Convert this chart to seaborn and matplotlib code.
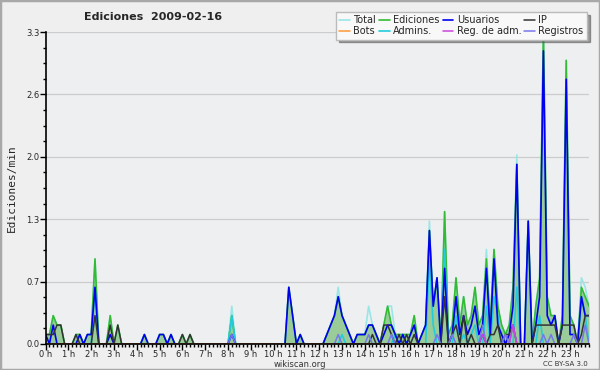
import numpy as np
import pandas as pd
import matplotlib
matplotlib.use("Agg")
import matplotlib.pyplot as plt
import seaborn as sns
from matplotlib.ticker import MultipleLocator, FixedLocator, FuncFormatter
from matplotlib.patches import Rectangle

title = "Ediciones  2009-02-16"
hour_labels = [f"{h} h" for h in range(24)]
ytick_values = [0.0, 0.66, 1.32, 1.98, 2.64, 3.3]

# 10-minute bins, edits per minute (one row per hour)
ediciones = [
    0.1, 0.1, 0.3, 0.2, 0.2, 0.0,
    0.0, 0.0, 0.1, 0.1, 0.0, 0.1,
    0.1, 0.9, 0.0, 0.0, 0.0, 0.3,
    0.0, 0.2, 0.0, 0.0, 0.0, 0.0,
    0.0, 0.0, 0.1, 0.0, 0.0, 0.0,
    0.1, 0.1, 0.0, 0.1, 0.0, 0.0,
    0.1, 0.0, 0.1, 0.0, 0.0, 0.0,
    0.0, 0.0, 0.0, 0.0, 0.0, 0.0,
    0.0, 0.3, 0.0, 0.0, 0.0, 0.0,
    0.0, 0.0, 0.0, 0.0, 0.0, 0.0,
    0.0, 0.0, 0.0, 0.0, 0.6, 0.3,
    0.0, 0.1, 0.0, 0.0, 0.0, 0.0,
    0.0, 0.0, 0.1, 0.2, 0.3, 0.5,
    0.3, 0.2, 0.1, 0.0, 0.1, 0.1,
    0.1, 0.2, 0.2, 0.1, 0.0, 0.2,
    0.4, 0.2, 0.1, 0.1, 0.1, 0.1,
    0.1, 0.3, 0.0, 0.1, 0.2, 1.2,
    0.4, 0.7, 0.0, 1.4, 0.1, 0.2,
    0.7, 0.2, 0.5, 0.2, 0.3, 0.6,
    0.2, 0.3, 0.9, 0.2, 1.0, 0.4,
    0.2, 0.1, 0.2, 0.6, 1.9, 0.0,
    0.0, 1.3, 0.0, 0.4, 0.7, 3.3,
    0.5, 0.3, 0.3, 0.0, 0.3, 3.0,
    0.3, 0.2, 0.0, 0.6, 0.5, 0.4,
]
total = [
    0.1, 0.1, 0.3, 0.2, 0.2, 0.0,
    0.0, 0.0, 0.1, 0.1, 0.0, 0.1,
    0.1, 0.9, 0.0, 0.0, 0.0, 0.3,
    0.0, 0.2, 0.0, 0.0, 0.0, 0.0,
    0.0, 0.0, 0.1, 0.0, 0.0, 0.0,
    0.1, 0.1, 0.0, 0.1, 0.0, 0.0,
    0.1, 0.0, 0.1, 0.0, 0.0, 0.0,
    0.0, 0.0, 0.0, 0.0, 0.0, 0.0,
    0.0, 0.4, 0.0, 0.0, 0.0, 0.0,
    0.0, 0.0, 0.0, 0.0, 0.0, 0.0,
    0.0, 0.0, 0.0, 0.0, 0.6, 0.3,
    0.0, 0.1, 0.0, 0.0, 0.0, 0.0,
    0.0, 0.0, 0.1, 0.2, 0.3, 0.6,
    0.3, 0.2, 0.1, 0.0, 0.1, 0.1,
    0.1, 0.4, 0.2, 0.1, 0.0, 0.2,
    0.4, 0.4, 0.1, 0.1, 0.1, 0.1,
    0.1, 0.3, 0.0, 0.1, 0.2, 1.3,
    0.4, 0.7, 0.0, 1.4, 0.1, 0.2,
    0.7, 0.2, 0.5, 0.2, 0.3, 0.6,
    0.2, 0.3, 1.0, 0.2, 1.0, 0.4,
    0.2, 0.1, 0.2, 0.6, 2.0, 0.0,
    0.0, 1.3, 0.0, 0.4, 0.7, 3.3,
    0.5, 0.3, 0.3, 0.0, 0.3, 3.0,
    0.3, 0.2, 0.0, 0.7, 0.6, 0.4,
]
usuarios = [
    0.1, 0.0, 0.2, 0.0, 0.0, 0.0,
    0.0, 0.0, 0.0, 0.1, 0.0, 0.1,
    0.1, 0.6, 0.0, 0.0, 0.0, 0.1,
    0.0, 0.0, 0.0, 0.0, 0.0, 0.0,
    0.0, 0.0, 0.1, 0.0, 0.0, 0.0,
    0.1, 0.1, 0.0, 0.1, 0.0, 0.0,
    0.0, 0.0, 0.0, 0.0, 0.0, 0.0,
    0.0, 0.0, 0.0, 0.0, 0.0, 0.0,
    0.0, 0.1, 0.0, 0.0, 0.0, 0.0,
    0.0, 0.0, 0.0, 0.0, 0.0, 0.0,
    0.0, 0.0, 0.0, 0.0, 0.6, 0.3,
    0.0, 0.1, 0.0, 0.0, 0.0, 0.0,
    0.0, 0.0, 0.1, 0.2, 0.3, 0.5,
    0.3, 0.2, 0.1, 0.0, 0.1, 0.1,
    0.1, 0.2, 0.2, 0.1, 0.0, 0.1,
    0.2, 0.2, 0.1, 0.0, 0.1, 0.0,
    0.1, 0.2, 0.0, 0.1, 0.2, 1.2,
    0.4, 0.7, 0.0, 0.8, 0.0, 0.1,
    0.5, 0.1, 0.3, 0.1, 0.2, 0.4,
    0.1, 0.2, 0.8, 0.1, 0.9, 0.2,
    0.1, 0.0, 0.1, 0.4, 1.9, 0.0,
    0.0, 1.3, 0.0, 0.2, 0.5, 3.1,
    0.3, 0.2, 0.3, 0.0, 0.2, 2.8,
    0.1, 0.1, 0.0, 0.5, 0.3, 0.3,
]
ip = [
    0.1, 0.1, 0.1, 0.2, 0.2, 0.0,
    0.0, 0.0, 0.1, 0.0, 0.0, 0.0,
    0.0, 0.3, 0.0, 0.0, 0.0, 0.2,
    0.0, 0.2, 0.0, 0.0, 0.0, 0.0,
    0.0, 0.0, 0.0, 0.0, 0.0, 0.0,
    0.0, 0.0, 0.0, 0.0, 0.0, 0.0,
    0.1, 0.0, 0.1, 0.0, 0.0, 0.0,
    0.0, 0.0, 0.0, 0.0, 0.0, 0.0,
    0.0, 0.0, 0.0, 0.0, 0.0, 0.0,
    0.0, 0.0, 0.0, 0.0, 0.0, 0.0,
    0.0, 0.0, 0.0, 0.0, 0.0, 0.0,
    0.0, 0.0, 0.0, 0.0, 0.0, 0.0,
    0.0, 0.0, 0.0, 0.0, 0.0, 0.0,
    0.0, 0.0, 0.0, 0.0, 0.0, 0.0,
    0.0, 0.0, 0.1, 0.0, 0.0, 0.2,
    0.2, 0.1, 0.0, 0.1, 0.0, 0.1,
    0.0, 0.1, 0.0, 0.0, 0.0, 0.0,
    0.0, 0.0, 0.0, 0.5, 0.0, 0.1,
    0.2, 0.0, 0.3, 0.0, 0.1, 0.0,
    0.0, 0.1, 0.0, 0.1, 0.1, 0.2,
    0.0, 0.1, 0.1, 0.2, 0.0, 0.0,
    0.0, 0.0, 0.0, 0.2, 0.2, 0.2,
    0.2, 0.2, 0.2, 0.0, 0.2, 0.2,
    0.2, 0.2, 0.0, 0.1, 0.3, 0.3,
]
admins = [
    0.0, 0.0, 0.0, 0.0, 0.0, 0.0,
    0.0, 0.0, 0.0, 0.0, 0.0, 0.0,
    0.0, 0.6, 0.0, 0.0, 0.0, 0.0,
    0.0, 0.0, 0.0, 0.0, 0.0, 0.0,
    0.0, 0.0, 0.0, 0.0, 0.0, 0.0,
    0.0, 0.0, 0.0, 0.0, 0.0, 0.0,
    0.0, 0.0, 0.0, 0.0, 0.0, 0.0,
    0.0, 0.0, 0.0, 0.0, 0.0, 0.0,
    0.0, 0.3, 0.0, 0.0, 0.0, 0.0,
    0.0, 0.0, 0.0, 0.0, 0.0, 0.0,
    0.0, 0.0, 0.0, 0.0, 0.0, 0.0,
    0.0, 0.0, 0.0, 0.0, 0.0, 0.0,
    0.0, 0.0, 0.0, 0.0, 0.0, 0.0,
    0.1, 0.0, 0.0, 0.0, 0.0, 0.0,
    0.0, 0.0, 0.0, 0.0, 0.0, 0.0,
    0.0, 0.0, 0.1, 0.0, 0.1, 0.0,
    0.0, 0.0, 0.0, 0.0, 0.0, 0.9,
    0.2, 0.0, 0.0, 1.0, 0.0, 0.0,
    0.3, 0.0, 0.1, 0.0, 0.1, 0.2,
    0.0, 0.0, 0.4, 0.0, 0.5, 0.3,
    0.0, 0.0, 0.0, 0.0, 0.6, 0.0,
    0.0, 0.0, 0.0, 0.0, 0.3, 0.0,
    0.0, 0.0, 0.0, 0.0, 0.0, 0.0,
    0.0, 0.0, 0.0, 0.5, 0.3, 0.0,
]
registros = [
    0.0, 0.0, 0.0, 0.0, 0.0, 0.0,
    0.0, 0.0, 0.0, 0.0, 0.0, 0.0,
    0.0, 0.0, 0.0, 0.0, 0.0, 0.0,
    0.0, 0.0, 0.0, 0.0, 0.0, 0.0,
    0.0, 0.0, 0.0, 0.0, 0.0, 0.0,
    0.0, 0.0, 0.0, 0.0, 0.0, 0.0,
    0.0, 0.0, 0.0, 0.0, 0.0, 0.0,
    0.0, 0.0, 0.0, 0.0, 0.0, 0.0,
    0.0, 0.1, 0.0, 0.0, 0.0, 0.0,
    0.0, 0.0, 0.0, 0.0, 0.0, 0.0,
    0.0, 0.0, 0.0, 0.0, 0.0, 0.0,
    0.0, 0.0, 0.0, 0.0, 0.0, 0.0,
    0.0, 0.0, 0.0, 0.0, 0.0, 0.1,
    0.0, 0.0, 0.0, 0.0, 0.0, 0.0,
    0.0, 0.1, 0.0, 0.0, 0.0, 0.0,
    0.0, 0.1, 0.0, 0.0, 0.0, 0.0,
    0.0, 0.0, 0.0, 0.0, 0.0, 0.0,
    0.0, 0.1, 0.0, 0.0, 0.0, 0.1,
    0.0, 0.0, 0.0, 0.0, 0.0, 0.0,
    0.0, 0.2, 0.0, 0.0, 0.0, 0.0,
    0.0, 0.1, 0.0, 0.2, 0.0, 0.0,
    0.0, 0.0, 0.0, 0.0, 0.0, 0.1,
    0.0, 0.1, 0.0, 0.0, 0.0, 0.0,
    0.0, 0.1, 0.0, 0.0, 0.2, 0.0,
]
reg_adm = [0.0] * 114 + [0.0, 0.1] + [0.0] * 7 + [0.2] + [0.0] * 20
bots = [0.0] * 144

sns.set_style("white")
plt.rcParams['font.family'] = ['DejaVu Sans']

n = len(ediciones)
df = pd.DataFrame({
    "t": np.arange(n) / 6.0,
    "Total": total, "Ediciones": ediciones, "Usuarios": usuarios, "IP": ip,
    "Bots": bots, "Admins.": admins, "Reg. de adm.": reg_adm, "Registros": registros,
})

fig = plt.figure(figsize=(6, 3.7), dpi=100, facecolor='#efefef')
ax = fig.add_axes([0.076, 0.0703, 0.9057, 0.8432])
ax.set_facecolor('#eeeff1')

ax.fill_between(df["t"], df["Ediciones"], 0, color='#99cc99', lw=0, zorder=1)

styles = [
    ("Total", '#99e6e6', 1.2),
    ("Ediciones", '#33bb33', 1.2),
    ("Admins.", '#22ccdd', 1.2),
    ("Usuarios", '#0000ee', 1.2),
    ("IP", '#333333', 1.1),
    ("Registros", '#7777ee', 1.1),
    ("Reg. de adm.", '#cc44dd', 1.1),
    ("Bots", '#ff9933', 1.1),
]
for name, col, lw in styles:
    sns.lineplot(data=df, x="t", y=name, color=col, lw=lw, ax=ax, label=name, zorder=2)

ax.set_xlim(0, (n - 1) / 6.0)
ax.set_ylim(0, 3.3)
ax.xaxis.set_major_locator(FixedLocator(list(range(24))))
ax.set_xticklabels(hour_labels)
ax.xaxis.set_minor_locator(MultipleLocator(1 / 6.0))
ax.yaxis.set_major_locator(FixedLocator(ytick_values))
ax.yaxis.set_major_formatter(FuncFormatter(lambda v, p: f"{v:.1f}"))
ax.yaxis.set_minor_locator(MultipleLocator(0.165))
ax.tick_params(axis='both', which='major', direction='out', length=4, width=1,
               labelsize=6, pad=0.5, color='black', bottom=True, left=True)
ax.tick_params(axis='both', which='minor', direction='out', length=2.5, width=1,
               color='black', bottom=True, left=True)
ax.set_xlabel("")
ax.set_ylabel("Ediciones/min", family='DejaVu Sans Mono', fontsize=8)
ax.yaxis.set_label_coords(-0.052, 0.5)
ax.grid(axis='y', which='major', color='#cccccc', lw=0.9)
ax.set_axisbelow(True)
for s in ('top', 'right'):
    ax.spines[s].set_visible(False)
for s in ('left', 'bottom'):
    ax.spines[s].set_color('black')
    ax.spines[s].set_linewidth(1.2)
    ax.spines[s].set_zorder(5)

handles, labels = ax.get_legend_handles_labels()
hmap = dict(zip(labels, handles))
ax.get_legend().remove()
order = ["Total", "Bots", "Ediciones", "Admins.", "Usuarios", "Reg. de adm.", "IP", "Registros"]
fig.legend([hmap[k] for k in order], order, ncol=4, loc='upper right',
           bbox_to_anchor=(0.978, 0.968), bbox_transform=fig.transFigure,
           fontsize=7, frameon=True, shadow=True, fancybox=False,
           edgecolor='#bbbbbb', facecolor='#f8f8f8', framealpha=1,
           handlelength=1.1, handletextpad=0.35, columnspacing=0.3,
           labelspacing=0.1, borderpad=0.35, borderaxespad=0)

fig.text(0.255, 0.953, title, ha='center', va='center', fontweight='bold', fontsize=8)
fig.text(0.5, 0.016, "wikiscan.org", ha='center', va='center', fontsize=6, color='#333333')
fig.text(0.98, 0.016, "CC BY-SA 3.0", ha='right', va='center', fontsize=5, color='#333333')
fig.patches.append(Rectangle((0, 0), 1, 1, transform=fig.transFigure, fill=False,
                             ec='#a8a8a8', lw=2.5, zorder=10))

fig.savefig("out.png", dpi=100, facecolor=fig.get_facecolor())
